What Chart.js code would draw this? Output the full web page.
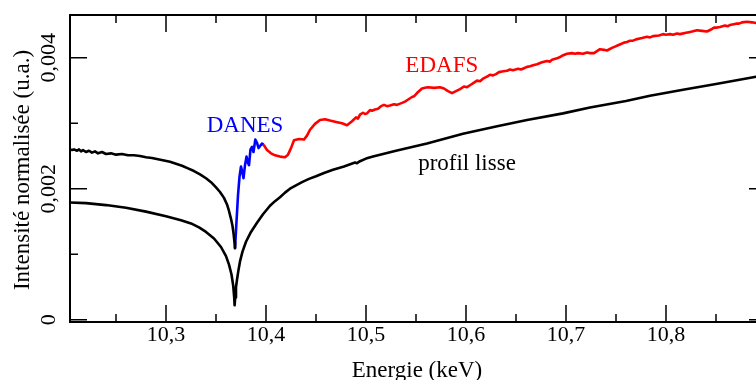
<!DOCTYPE html>
<html>
<head>
<meta charset="utf-8">
<script src="https://cdn.jsdelivr.net/npm/chart.js@4"></script>
<style>
html, body { margin:0; padding:0; background:#fff; overflow:hidden; width:756px; height:380px; }
canvas { display:block; }
</style>
</head>
<body>
<canvas id="c" width="766" height="380"></canvas>
<script>
// energie (keV), intensite normalisee (u.a.)
const profilLisse = [
[10.204,0.00179],[10.22,0.00178],[10.24,0.00175],[10.26,0.00171],[10.28,0.00165],
[10.30,0.00158],[10.315,0.00152],[10.325,0.00147],[10.333,0.00141],[10.340,0.00134],
[10.348,0.00124],[10.355,0.00111],[10.360,0.00097],[10.363,0.00084],[10.3655,0.00069],
[10.3672,0.00052],[10.3682,0.00034],[10.3686,0.00022],[10.3692,0.00034],[10.370,0.00050],
[10.371,0.00061],[10.3725,0.00076],[10.374,0.00089],[10.3765,0.00104],[10.380,0.00119],
[10.385,0.00134],[10.391,0.00148],[10.397,0.00161],[10.404,0.00174],[10.409,0.00181],
[10.414,0.00187],[10.419,0.00194],[10.424,0.00200],[10.430,0.00205],[10.436,0.00210],
[10.443,0.00215],[10.450,0.00219],[10.458,0.00224],[10.467,0.00229],[10.478,0.00234],
[10.489,0.00240],[10.491,0.00239],[10.494,0.00242],[10.500,0.00246],[10.507,0.00249],
[10.530,0.00258],[10.561,0.00269],[10.597,0.00284],[10.630,0.00295],[10.661,0.00305],
[10.697,0.00315],[10.724,0.00324],[10.760,0.00334],[10.784,0.00342],[10.817,0.00351],
[10.850,0.00360],[10.890,0.00371],[10.900,0.00374]
];
const preSeuil = [
[10.204,0.00260],[10.206,0.00259],[10.208,0.00260],[10.211,0.00258],[10.213,0.00260],
[10.215,0.00257],[10.217,0.00259],[10.220,0.00256],[10.223,0.00258],[10.226,0.00255],
[10.229,0.00257],[10.232,0.00254],[10.236,0.00256],[10.240,0.00253],[10.245,0.00254],
[10.250,0.00252],[10.256,0.00253],[10.262,0.00251],[10.268,0.00251],[10.274,0.00250],
[10.280,0.00248],[10.286,0.00247],[10.292,0.00245],[10.298,0.00243],[10.304,0.00241],
[10.310,0.00238],[10.316,0.00235],[10.322,0.00231],[10.328,0.00227],[10.334,0.00222],
[10.340,0.00216],[10.345,0.00210],[10.350,0.00202],[10.354,0.00195],[10.358,0.00186],
[10.361,0.00176],[10.363,0.00166],[10.365,0.00154],[10.3665,0.00143],[10.3676,0.00131],
[10.3685,0.00118],[10.369,0.00109]
];
const danes = [
[10.3690,0.00109],[10.3705,0.00150],[10.372,0.00190],[10.3735,0.00218],[10.375,0.00234],
[10.3765,0.00224],[10.3775,0.00216],[10.379,0.00236],[10.3805,0.00249],[10.3818,0.00240],
[10.383,0.00236],[10.3845,0.00260],[10.386,0.00264],[10.3875,0.00256],[10.3893,0.00275],
[10.391,0.00270],[10.3926,0.00262],[10.3945,0.00266],[10.396,0.00269],[10.3976,0.00267]
];
const edafs = [
[10.3976,0.00267],[10.401,0.00259],[10.405,0.00254],[10.409,0.00251],[10.414,0.00249],
[10.419,0.00248],[10.422,0.00252],[10.425,0.00262],[10.428,0.00274],[10.433,0.00276],
[10.438,0.00275],[10.441,0.00281],[10.444,0.00290],[10.449,0.00299],[10.454,0.00305],
[10.459,0.00306],[10.464,0.00304],[10.470,0.00302],[10.476,0.00300],[10.481,0.00297],
[10.486,0.00303],[10.490,0.00309],[10.492,0.00307],[10.494,0.00313],[10.497,0.00316],
[10.499,0.00314],[10.501,0.00315],[10.504,0.00320],[10.506,0.00319],[10.509,0.00321],
[10.512,0.00322],[10.515,0.00326],[10.518,0.00328],[10.521,0.00326],[10.524,0.00327],
[10.528,0.00329],[10.531,0.00328],[10.536,0.00331],[10.539,0.00333],[10.541,0.00335],
[10.546,0.00340],[10.548,0.00341],[10.551,0.00346],[10.556,0.00353],[10.559,0.00354],
[10.562,0.00355],[10.568,0.00354],[10.574,0.00355],[10.578,0.00353],[10.582,0.00349],
[10.586,0.00346],[10.590,0.00349],[10.594,0.00352],[10.598,0.00356],[10.601,0.00355],
[10.604,0.00358],[10.608,0.00362],[10.611,0.00365],[10.614,0.00364],[10.617,0.00368],
[10.621,0.00371],[10.624,0.00374],[10.627,0.00373],[10.630,0.00375],[10.633,0.00378],
[10.636,0.00379],[10.641,0.00380],[10.644,0.00382],[10.647,0.00381],[10.652,0.00383],
[10.655,0.00382],[10.658,0.00384],[10.661,0.00386],[10.664,0.00387],[10.668,0.00389],
[10.671,0.00390],[10.676,0.00393],[10.681,0.00395],[10.684,0.00394],[10.686,0.00397],
[10.691,0.00399],[10.694,0.00401],[10.696,0.00403],[10.701,0.00406],[10.706,0.00407],
[10.709,0.00406],[10.712,0.00407],[10.717,0.00406],[10.721,0.00408],[10.724,0.00407],
[10.728,0.00407],[10.731,0.00410],[10.734,0.00413],[10.738,0.00412],[10.741,0.00411],
[10.746,0.00415],[10.749,0.00417],[10.752,0.00419],[10.755,0.00421],[10.758,0.00423],
[10.761,0.00424],[10.764,0.00426],[10.767,0.00426],[10.770,0.00428],[10.776,0.00430],
[10.781,0.00432],[10.784,0.00431],[10.787,0.00433],[10.793,0.00434],[10.797,0.00436],
[10.800,0.00435],[10.804,0.00436],[10.807,0.00435],[10.811,0.00437],[10.814,0.00436],
[10.820,0.00438],[10.823,0.00439],[10.826,0.00440],[10.831,0.00442],[10.836,0.00441],
[10.841,0.00440],[10.845,0.00443],[10.848,0.00446],[10.851,0.00446],[10.854,0.00447],
[10.859,0.00449],[10.862,0.00448],[10.864,0.00450],[10.870,0.00452],[10.873,0.00452],
[10.876,0.00454],[10.881,0.00455],[10.886,0.00454],[10.890,0.00453],[10.896,0.00452]
];

const xMajorTicks = [10.3, 10.4, 10.5, 10.6, 10.7, 10.8, 10.9];
const xMinorTicks = [10.25, 10.35, 10.45, 10.55, 10.65, 10.75, 10.85];
const xTickLabels = [10.3, 10.4, 10.5, 10.6, 10.7, 10.8];
const yMajorTicks = [0, 0.002, 0.004];
const yMinorTicks = [0.001, 0.003];

// texte pose sur la courbe : [libelle, energie, intensite, couleur]
const annotations = [
['DANES', 10.379, 0.002866, '#0000ff'],
['EDAFS', 10.5758, 0.00378, '#ff0000'],
['profil lisse', 10.601, 0.002286, '#000000']
];

const FONT = '"Liberation Serif", "Times New Roman", serif';
const fmt = v => String(+v.toFixed(3)).replace('.', ',');

const toXY = arr => arr.map(p => ({x:p[0], y:p[1]}));

const cadre = {
id:'cadre',
afterDraw(chart) {
const {ctx, chartArea:a, scales:{x, y}} = chart;
ctx.save();
ctx.strokeStyle = '#000';
ctx.lineWidth = 2;
ctx.strokeRect(a.left, a.top, a.right - a.left, a.bottom - a.top);

ctx.lineWidth = 1.5;
const tickX = (v, len) => {
const px = x.getPixelForValue(v);
ctx.beginPath();
ctx.moveTo(px, a.bottom); ctx.lineTo(px, a.bottom - len);
ctx.moveTo(px, a.top); ctx.lineTo(px, a.top + len);
ctx.stroke();
};
const tickY = (v, len) => {
const py = y.getPixelForValue(v);
ctx.beginPath();
ctx.moveTo(a.left, py); ctx.lineTo(a.left + len, py);
ctx.moveTo(a.right, py); ctx.lineTo(a.right - len, py);
ctx.stroke();
};
xMajorTicks.forEach(v => tickX(v, 17));
xMinorTicks.forEach(v => tickX(v, 8));
yMajorTicks.forEach(v => tickY(v, 17));
yMinorTicks.forEach(v => tickY(v, 8));

ctx.fillStyle = '#000';
ctx.font = '22px ' + FONT;
ctx.textAlign = 'center';
ctx.textBaseline = 'alphabetic';
xTickLabels.forEach(v => ctx.fillText(fmt(v), x.getPixelForValue(v), 341));

yMajorTicks.forEach(v => {
ctx.save();
ctx.translate(55, y.getPixelForValue(v));
ctx.rotate(-Math.PI / 2);
ctx.fillText(fmt(v), 0, 0);
ctx.restore();
});

ctx.font = '23px ' + FONT;
ctx.fillText('Energie (keV)', 417, 377);
ctx.save();
ctx.translate(29, 170);
ctx.rotate(-Math.PI / 2);
ctx.fillText('Intensité normalisée (u.a.)', 0, 0);
ctx.restore();

annotations.forEach(([txt, e, v, col]) => {
ctx.fillStyle = col;
ctx.fillText(txt, x.getPixelForValue(e), y.getPixelForValue(v));
});
ctx.restore();
}
};

const ligne = (data, color) => ({
data: toXY(data),
borderColor: color,
borderWidth: 2.6,
pointRadius: 0,
tension: 0,
borderJoinStyle: 'round',
fill: false
});

new Chart(document.getElementById('c'), {
type:'line',
data:{
datasets:[
ligne(profilLisse, '#000000'),
ligne(preSeuil, '#000000'),
ligne(danes, '#0000ff'),
ligne(edafs, '#ff0000')
]
},
options:{
responsive:false,
animation:false,
layout:{ padding:{ left:70, top:15, right:0, bottom:58 } },
scales:{
x:{ type:'linear', min:10.204, max:10.9, display:false },
y:{ min:-0.000035, max:0.004652, display:false }
},
plugins:{ legend:{ display:false }, tooltip:{ enabled:false } }
},
plugins:[cadre]
});
</script>
</body>
</html>
